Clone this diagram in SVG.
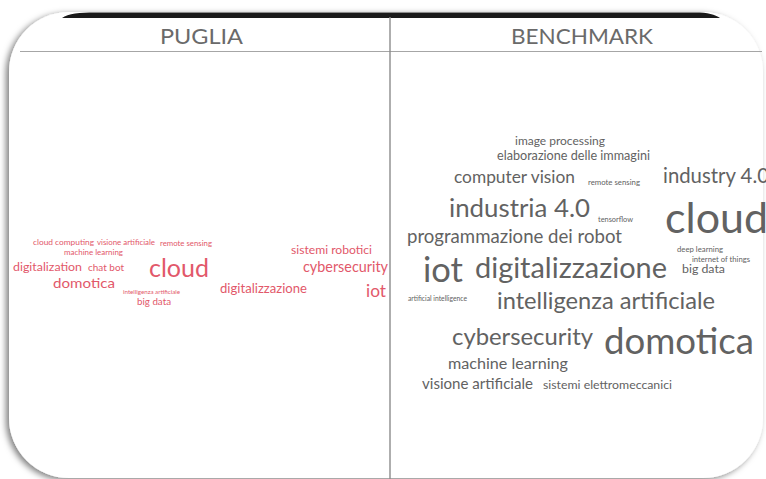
<svg xmlns="http://www.w3.org/2000/svg" width="766" height="479" viewBox="0 0 766 479">
<defs>
<filter id="sh" x="-10%" y="-10%" width="120%" height="120%">
<feDropShadow dx="-3" dy="2" stdDeviation="3" flood-color="#000" flood-opacity="0.5"/>
</filter>
<style>
text{font-family:Lato,"Liberation Sans",sans-serif}
.h{font-size:22px;fill:#6a6a6a}
.p{fill:#e2586a}
.b{fill:#626262}
</style>
</defs>
<rect width="766" height="479" fill="#fff"/>
<g id="frame">
<rect x="9" y="12" width="754" height="466" rx="60" ry="60" fill="#fff" filter="url(#sh)"/>
<path d="M62,18 C68,13.5 80,12.5 95,12.5 L695,12.5 C708,12.5 715,14.5 720,18 Z" fill="#1a1a1a"/>
<line x1="20" y1="51.5" x2="762" y2="51.5" stroke="#a6a6a6" stroke-width="1"/>
<line x1="390" y1="17" x2="390" y2="479" stroke="#8c8c8c" stroke-width="1.4"/>
</g>
<g id="headers">
<text class="h" x="160" y="44" textLength="83" lengthAdjust="spacingAndGlyphs">PUGLIA</text>
<text class="h" x="511" y="44" textLength="142" lengthAdjust="spacingAndGlyphs">BENCHMARK</text>
</g>
<g id="puglia">
<text class="p" x="33" y="245" font-size="8.3" textLength="61" lengthAdjust="spacingAndGlyphs">cloud computing</text>
<text class="p" x="97" y="245" font-size="7.9" textLength="58" lengthAdjust="spacingAndGlyphs">visione artificiale</text>
<text class="p" x="160" y="246" font-size="7.7" textLength="52" lengthAdjust="spacingAndGlyphs">remote sensing</text>
<text class="p" x="64" y="255" font-size="7.8" textLength="59" lengthAdjust="spacingAndGlyphs">machine learning</text>
<text class="p" x="13" y="271" font-size="12.3" textLength="69" lengthAdjust="spacingAndGlyphs">digitalization</text>
<text class="p" x="88" y="271" font-size="10" textLength="36" lengthAdjust="spacingAndGlyphs">chat bot</text>
<text class="p" x="149" y="277" font-size="25" textLength="60" lengthAdjust="spacingAndGlyphs">cloud</text>
<text class="p" x="53" y="288" font-size="13.5" textLength="62" lengthAdjust="spacingAndGlyphs">domotica</text>
<text class="p" x="123" y="294" font-size="6.2" textLength="57" lengthAdjust="spacingAndGlyphs">intelligenza artificiale</text>
<text class="p" x="137" y="305" font-size="9.7" textLength="34" lengthAdjust="spacingAndGlyphs">big data</text>
<text class="p" x="291" y="254" font-size="12" textLength="81" lengthAdjust="spacingAndGlyphs">sistemi robotici</text>
<text class="p" x="303" y="272" font-size="14.5" textLength="85" lengthAdjust="spacingAndGlyphs">cybersecurity</text>
<text class="p" x="220" y="293" font-size="13" textLength="87" lengthAdjust="spacingAndGlyphs">digitalizzazione</text>
<text class="p" x="366" y="297" font-size="17" textLength="20" lengthAdjust="spacingAndGlyphs">iot</text>
</g>
<g id="benchmark">
<text class="b" x="515" y="145" font-size="11.9" textLength="90" lengthAdjust="spacingAndGlyphs">image processing</text>
<text class="b" x="497" y="160" font-size="12.4" textLength="153" lengthAdjust="spacingAndGlyphs">elaborazione delle immagini</text>
<text class="b" x="454" y="183" font-size="17" textLength="121" lengthAdjust="spacingAndGlyphs">computer vision</text>
<text class="b" x="588" y="185" font-size="7.7" textLength="52" lengthAdjust="spacingAndGlyphs">remote sensing</text>
<text class="b" x="663" y="183" font-size="20.5" textLength="106" lengthAdjust="spacingAndGlyphs">industry 4.0</text>
<text class="b" x="449" y="217" font-size="25.8" textLength="141" lengthAdjust="spacingAndGlyphs">industria 4.0</text>
<text class="b" x="598" y="222" font-size="7.4" textLength="35" lengthAdjust="spacingAndGlyphs">tensorflow</text>
<text class="b" x="665" y="233" font-size="43" textLength="103" lengthAdjust="spacingAndGlyphs">cloud</text>
<text class="b" x="407" y="243" font-size="18.3" textLength="215" lengthAdjust="spacingAndGlyphs">programmazione dei robot</text>
<text class="b" x="677" y="252" font-size="7" textLength="46" lengthAdjust="spacingAndGlyphs">deep learning</text>
<text class="b" x="692" y="262" font-size="7" textLength="58" lengthAdjust="spacingAndGlyphs">internet of things</text>
<text class="b" x="423" y="282" font-size="34" textLength="40" lengthAdjust="spacingAndGlyphs">iot</text>
<text class="b" x="475" y="278" font-size="29" textLength="192" lengthAdjust="spacingAndGlyphs">digitalizzazione</text>
<text class="b" x="682" y="273" font-size="12.3" textLength="43" lengthAdjust="spacingAndGlyphs">big data</text>
<text class="b" x="408" y="301" font-size="6.7" textLength="59" lengthAdjust="spacingAndGlyphs">artificial intelligence</text>
<text class="b" x="497" y="309" font-size="23.4" textLength="218" lengthAdjust="spacingAndGlyphs">intelligenza artificiale</text>
<text class="b" x="452" y="345" font-size="24" textLength="141" lengthAdjust="spacingAndGlyphs">cybersecurity</text>
<text class="b" x="604" y="354" font-size="36" textLength="150" lengthAdjust="spacingAndGlyphs">domotica</text>
<text class="b" x="448" y="369" font-size="15.9" textLength="120" lengthAdjust="spacingAndGlyphs">machine learning</text>
<text class="b" x="422" y="389" font-size="15" textLength="111" lengthAdjust="spacingAndGlyphs">visione artificiale</text>
<text class="b" x="543" y="389" font-size="11.5" textLength="129" lengthAdjust="spacingAndGlyphs">sistemi elettromeccanici</text>
</g>
</svg>
